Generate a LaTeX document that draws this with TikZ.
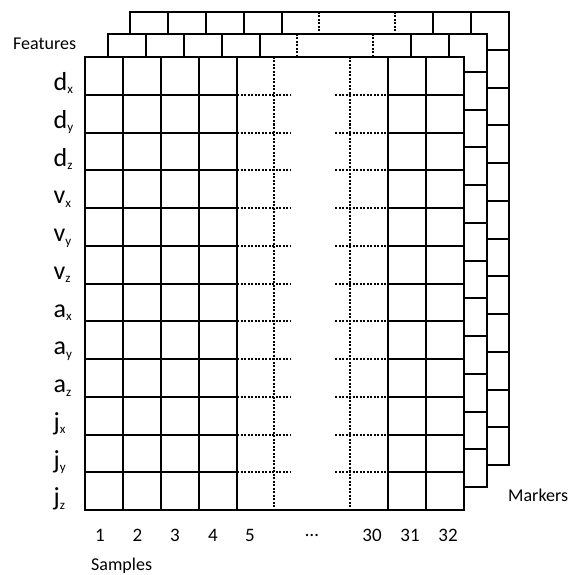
\documentclass[tikz,border=0pt]{standalone}
\usepackage{fontspec}
\setmainfont{Carlito}

\begin{document}
\begin{tikzpicture}[x=1pt,y=-1pt,
    cellline/.style={line width=1.8pt},
    dotline/.style={line width=1.3pt, dash pattern=on 2pt off 1.5pt},
    frameline/.style={line width=2.8pt},
    lbl/.style={font=\fontsize{18}{18}\selectfont, inner sep=0pt},
    num/.style={font=\fontsize{19}{19}\selectfont, inner sep=0pt},
    feat/.style={font=\fontsize{26}{26}\selectfont, inner sep=0pt}]
    \useasboundingbox (0,0) rectangle (569,575);

    % Three marker layers, drawn back to front
    \foreach \s in {45,23,0} {
      \begin{scope}[shift={(\s,-\s)}]
        \fill[white] (85,57) rectangle (464,510);
        % Rows
        \foreach \j in {1,...,11} {
          \draw[cellline] (85,{round(57+37.75*\j)}) -- (237,{round(57+37.75*\j)});
          \draw[dotline] (237,{round(57+37.75*\j)}) -- (290,{round(57+37.75*\j)});
          \draw[dotline] (335,{round(57+37.75*\j)}) -- (388,{round(57+37.75*\j)});
          \draw[cellline] (388,{round(57+37.75*\j)}) -- (464,{round(57+37.75*\j)});
        }
        % Columns
        \foreach \k in {1,2,3,4,8,9}
          \draw[cellline] ({round(85+37.9*\k)},57) -- ({round(85+37.9*\k)},510);
        \foreach \k in {5,7}
          \draw[dotline] ({round(85+37.9*\k)},57) -- ({round(85+37.9*\k)},510);
        % Frame
        \draw[frameline] (85,57) rectangle (464,510);
      \end{scope}
    }

    % Feature labels
    \foreach \l/\sb [count=\i from 0] in {d/x,d/y,d/z,v/x,v/y,v/z,a/x,a/y,a/z,j/x,j/y,j/z}
      \node[feat, anchor=base west] (f\i) at (53.5,{57+37.75*\i+33.5})
        {\l\raisebox{-3.5pt}{\fontsize{13}{13}\selectfont\sb}};

    % Sample numbers
    \foreach \n/\xx in {1/100,2/137.5,3/175,4/213,5/250,30/372,31/410,32/448}
      \node[num] (s\n) at (\xx,535) {\n};
    \node[num] (sdots) at (312,535) {…};

    % Axis names
    \node[lbl, anchor=base west] (features) at (13,49.3) {Features};
    \node[lbl, anchor=base west] (markers) at (508,501) {Markers};
    \node[lbl, anchor=base west] (samples) at (91,570) {Samples};
\end{tikzpicture}
\end{document}
